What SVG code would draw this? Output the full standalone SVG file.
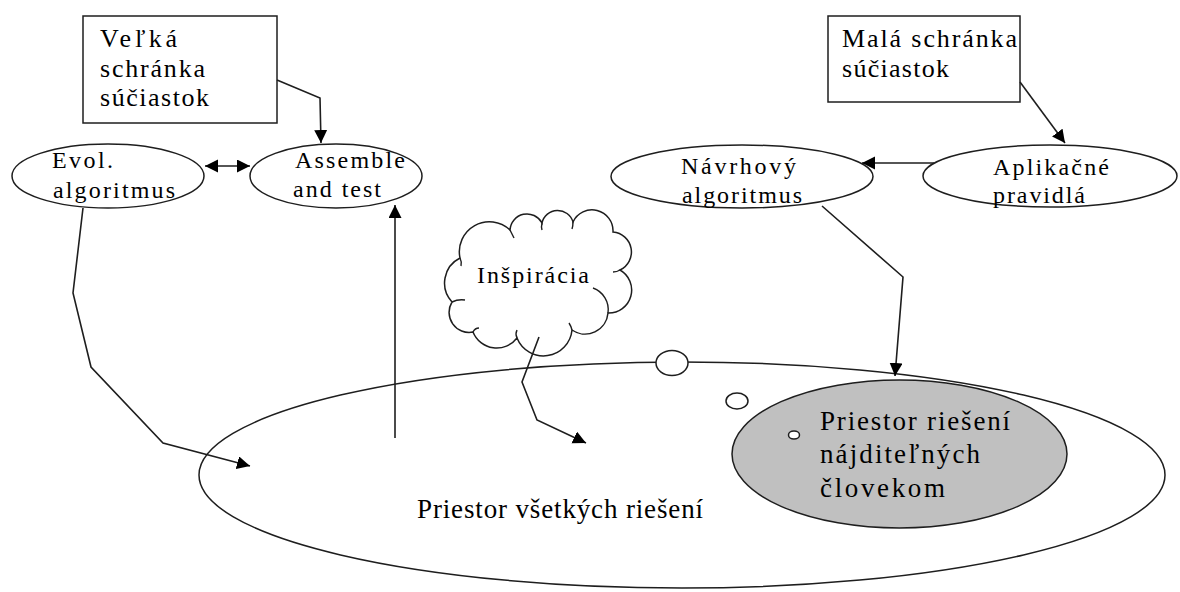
<svg xmlns="http://www.w3.org/2000/svg" width="1180" height="592" viewBox="0 0 1180 592">
  <defs>
    <marker id="head" markerWidth="14" markerHeight="14" refX="13" refY="6.5" orient="auto-start-reverse" markerUnits="userSpaceOnUse">
      <path d="M0,0 L13,6.5 L0,13 Z" fill="#000"/>
    </marker>
  </defs>
  <style>
    .t { font-family: "Liberation Serif", "Times New Roman", serif; fill: #000; }
    .f27 { font-size: 27px; }
    .f26 { font-size: 26px; }
    .f25 { font-size: 25px; }
    .f24 { font-size: 24px; }
    .node { fill: #fff; stroke: #1e1e1e; stroke-width: 1.5; }
    .gray { fill: #c0c0c0; stroke: #1e1e1e; stroke-width: 1.5; }
    .conn { fill: none; stroke: #1e1e1e; stroke-width: 1.6; }
    .curl { fill: none; stroke: #1e1e1e; stroke-width: 1.4; }
  </style>
  <rect width="1180" height="592" fill="#fff"/>

  <!-- solution space -->
  <g id="all-solutions">
    <ellipse class="node" cx="682" cy="475" rx="483" ry="113"/>
    <text class="t f27" x="417" y="518" textLength="286" lengthAdjust="spacing">Priestor všetkých riešení</text>
  </g>

  <g id="human-solutions">
    <ellipse class="gray" cx="899.5" cy="454" rx="167.5" ry="74"/>
    <text class="t f27" x="820" y="430" textLength="190" lengthAdjust="spacing">Priestor riešení</text>
    <text class="t f27" x="820" y="463" textLength="160" lengthAdjust="spacing">nájditeľných</text>
    <text class="t f27" x="820" y="497" textLength="125" lengthAdjust="spacing">človekom</text>
  </g>

  <g id="thought-bubbles">
    <ellipse class="node" cx="672" cy="363" rx="16" ry="12.5"/>
    <ellipse class="node" cx="737" cy="401" rx="11" ry="8"/>
    <ellipse class="node" cx="794" cy="435" rx="5.5" ry="4"/>
  </g>

  <g id="inspiration">
    <path class="node" d="M460,258 A30,30 0 0 1 510,230 A17,17 0 0 1 542,223 A16,16 0 0 1 573,222 A21,21 0 0 1 613,232 A20,20 0 0 1 620,270 A23,23 0 0 1 608,313 A23,23 0 0 1 572,330 A28.6,28.6 0 0 1 517,338 A25.5,25.5 0 0 1 473,332 A20,20 0 0 1 452,302 A28,28 0 0 1 460,258 Z"/>
    <path class="curl" d="M510,230 q2,4 4,8"/>
    <path class="curl" d="M542,223 q-1,4 0,7"/>
    <path class="curl" d="M573,222 q0,4 -1,7"/>
    <path class="curl" d="M620,270 q-3,2 -7,2"/>
    <path class="curl" d="M593,288 A23,23 0 0 1 608,313"/>
    <path class="curl" d="M572,330 q-1,-4 -3,-7"/>
    <path class="curl" d="M517,338 q-2,-4 0,-8"/>
    <path class="curl" d="M473,332 q2,-4 6,-4"/>
    <path class="curl" d="M452,302 q6,-3 13,-2"/>
    <path class="curl" d="M460,258 q2,4 1,8"/>
    <text class="t f24" x="477" y="283" textLength="112" lengthAdjust="spacing">Inšpirácia</text>
  </g>

  <!-- parts boxes -->
  <g id="big-parts-box">
    <rect class="node" x="83" y="16" width="194" height="107"/>
    <text class="t f26" x="100" y="47" textLength="77" lengthAdjust="spacing">Veľká</text>
    <text class="t f26" x="100" y="77" textLength="105" lengthAdjust="spacing">schránka</text>
    <text class="t f26" x="100" y="106" textLength="109" lengthAdjust="spacing">súčiastok</text>
  </g>

  <g id="small-parts-box">
    <rect class="node" x="828" y="16" width="192" height="86"/>
    <text class="t f26" x="842" y="47" textLength="175" lengthAdjust="spacing">Malá schránka</text>
    <text class="t f26" x="842" y="77" textLength="107" lengthAdjust="spacing">súčiastok</text>
  </g>

  <!-- process nodes -->
  <g id="evolutionary-algorithm">
    <ellipse class="node" cx="108" cy="176" rx="96" ry="32"/>
    <text class="t f24" x="52" y="168" textLength="61" lengthAdjust="spacing">Evol.</text>
    <text class="t f24" x="53" y="198" textLength="122" lengthAdjust="spacing">algoritmus</text>
  </g>

  <g id="assemble-and-test">
    <ellipse class="node" cx="336" cy="176" rx="86" ry="32"/>
    <text class="t f24" x="295" y="168" textLength="110" lengthAdjust="spacing">Assemble</text>
    <text class="t f24" x="293" y="197" textLength="88" lengthAdjust="spacing">and test</text>
  </g>

  <g id="design-algorithm">
    <ellipse class="node" cx="742" cy="176.5" rx="131" ry="31.5"/>
    <text class="t f24" x="681" y="174" textLength="115" lengthAdjust="spacing">Návrhový</text>
    <text class="t f24" x="682" y="203" textLength="120" lengthAdjust="spacing">algoritmus</text>
  </g>

  <g id="application-rules">
    <ellipse class="node" cx="1050" cy="176" rx="127" ry="31"/>
    <text class="t f24" x="993" y="175" textLength="116" lengthAdjust="spacing">Aplikačné</text>
    <text class="t f24" x="993" y="203" textLength="92" lengthAdjust="spacing">pravidlá</text>
  </g>

  <!-- connectors -->
  <g id="connectors">
    <polyline class="conn" points="277,80 320,98 321,143" marker-end="url(#head)"/>
    <line class="conn" x1="205" y1="166" x2="250" y2="166" marker-start="url(#head)" marker-end="url(#head)"/>
    <polyline class="conn" points="83,208 73,293 91,367 163,443 250,466" marker-end="url(#head)"/>
    <line class="conn" x1="395" y1="438" x2="395" y2="205" stroke="#333" stroke-width="2" marker-end="url(#head)"/>
    <polyline class="conn" points="539,337 522,382 537,420 586,443" marker-end="url(#head)"/>
    <polyline class="conn" points="1020,82 1065,143" marker-end="url(#head)"/>
    <line class="conn" x1="934" y1="163" x2="862" y2="163" marker-end="url(#head)"/>
    <polyline class="conn" points="822,206 903,277 895,376" marker-end="url(#head)"/>
  </g>
</svg>
